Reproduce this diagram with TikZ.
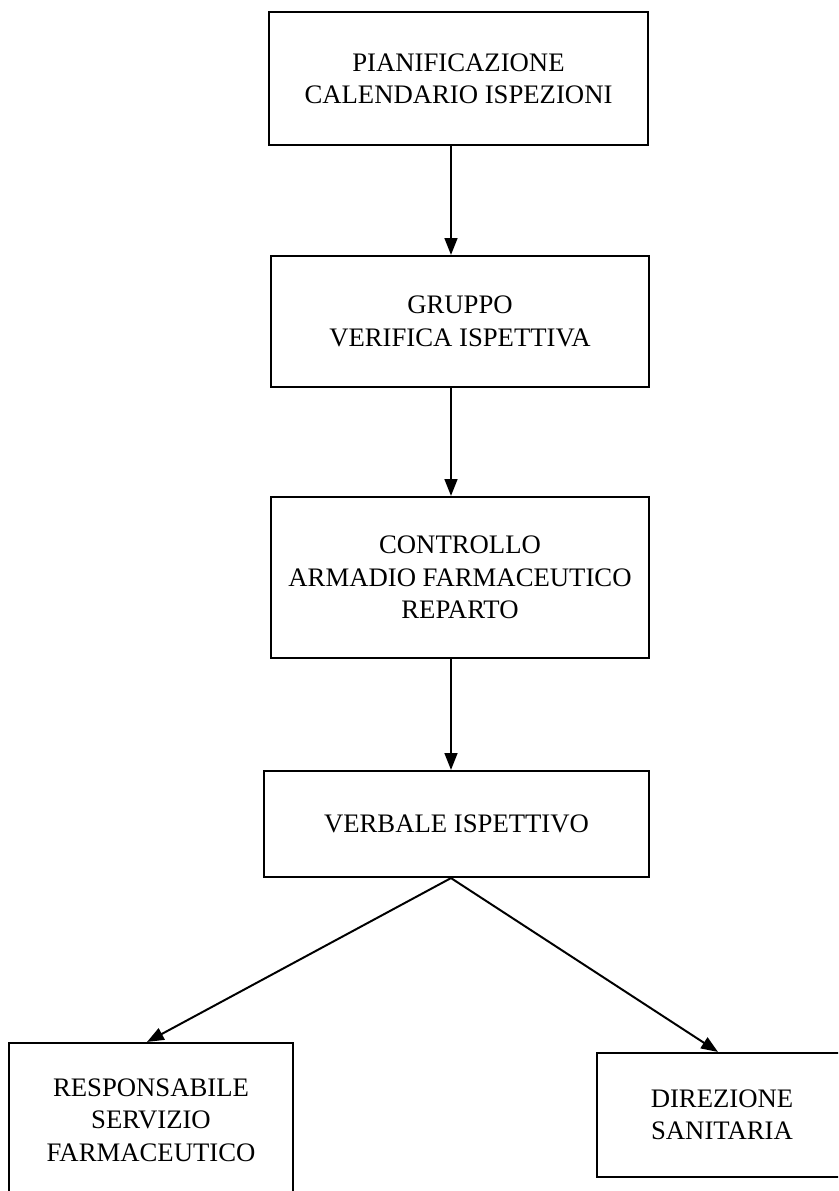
\documentclass[tikz,border=0pt]{standalone}
\usepackage{fontspec}
\setmainfont{Liberation Serif}
\usetikzlibrary{arrows.meta}

\begin{document}
\begin{tikzpicture}[
				x=0.025cm, y=-0.025cm,
				every node/.style={rectangle, draw, line width=1.5pt, align=center, inner sep=0,
					font=\fontsize{19}{23}\selectfont},
				freccia/.style={line width=1.4pt, -{Triangle[length=0.42cm, width=0.32cm]}},
			]
			\useasboundingbox (0,0) rectangle (838,1191);
			\clip (0,0) rectangle (838,1191);
			\node[minimum width=9.475cm, minimum height=3.325cm] (plan) at (458.5,78.5)
				{PIANIFICAZIONE\\CALENDARIO ISPEZIONI};
			\node[minimum width=9.45cm, minimum height=3.275cm] (gruppo) at (460,321.5)
				{GRUPPO\\VERIFICA ISPETTIVA};
			\node[minimum width=9.45cm, minimum height=4.025cm] (controllo) at (460,577.5)
				{CONTROLLO\\ARMADIO FARMACEUTICO\\REPARTO};
			\node[minimum width=9.625cm, minimum height=2.65cm] (verbale) at (456.5,824)
				{VERBALE ISPETTIVO};
			\node[minimum width=7.1cm, minimum height=3.85cm] (resp) at (151,1120)
				{RESPONSABILE\\SERVIZIO\\FARMACEUTICO};
			\node[minimum width=6.25cm, minimum height=3.1cm] (dir) at (722,1115)
				{DIREZIONE\\SANITARIA};
			\coordinate (asse) at (451,0);
			\draw[freccia] (plan.south -| asse) -- (gruppo.north -| asse);
			\draw[freccia] (gruppo.south -| asse) -- (controllo.north -| asse);
			\draw[freccia] (controllo.south -| asse) -- (verbale.north -| asse);
			\draw[freccia] (verbale.south -| asse) -- ([xshift=-0.1cm]resp.north);
			\draw[freccia] (verbale.south -| asse) -- ([xshift=-0.1cm]dir.north);
			\end{tikzpicture}
\end{document}
